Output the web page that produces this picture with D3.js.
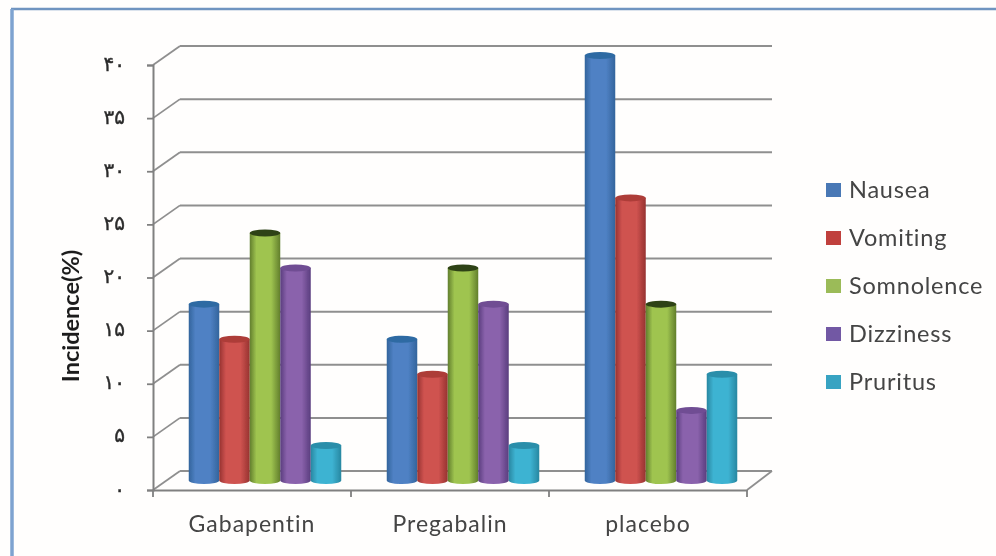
<!DOCTYPE html>
<html>
<head>
<meta charset="utf-8">
<script src="https://cdnjs.cloudflare.com/ajax/libs/d3/7.8.5/d3.min.js"></script>
<style>
  html, body { margin: 0; padding: 0; background: #fff; }
  svg { display: block; }
</style>
</head>
<body>
<svg id="chart" width="996" height="556"></svg>
<script>
var categories = ['Gabapentin', 'Pregabalin', 'placebo']
var seriesNames = ['Nausea', 'Vomiting', 'Somnolence', 'Dizziness', 'Pruritus']
var nausea = [16.6, 13.3, 40]
var vomiting = [13.3, 10, 26.6]
var somnolence = [23.3, 20, 16.6]
var dizziness = [20, 16.6, 6.6]
var pruritus = [3.3, 3.3, 10]
var yTicks = [0, 5, 10, 15, 20, 25, 30, 35, 40]
var yTickLabels = ['۰', '۵', '۱۰', '۱۵', '۲۰', '۲۵', '۳۰', '۳۵', '۴۰']
var seriesColors = [
  { mid: '#4f81c4', dark: '#33649c', cap: '#2f6ba3', key: '#4a78b5' },
  { mid: '#cf5350', dark: '#96322f', cap: '#ad3c39', key: '#c0413e' },
  { mid: '#9fc450', dark: '#617e2c', cap: '#2f4314', key: '#9bbb59' },
  { mid: '#8a62ac', dark: '#5a3d7e', cap: '#6f4d93', key: '#7258a4' },
  { mid: '#3eb3d2', dark: '#2787a1', cap: '#2b8eaa', key: '#38a3c2' }
]

var allSeries = [nausea, vomiting, somnolence, dizziness, pruritus]
var svg = d3.select('#chart')

// plot box of the front plane, the back wall sits at depthX, depthY from it
var plotLeft = 153, plotRight = 747, plotTop = 65, plotBottom = 490
var depthX = 27, depthY = -19
var barShiftX = 13, barShiftY = -9.5
var groupWidth = 152.5

var x = d3.scaleBand().domain(categories).range([plotLeft, plotRight])
var y = d3.scaleLinear().domain([0, 40]).range([plotBottom, plotTop])
var xInner = d3.scaleBand().domain(d3.range(seriesNames.length))
  .range([0, groupWidth])

var defs = svg.append('defs')
defs.append('filter').attr('id', 'soft')
  .attr('x', '-5%').attr('y', '-5%').attr('width', '110%').attr('height', '110%')
  .append('feGaussianBlur').attr('stdDeviation', 0.7)

seriesColors.forEach(function (c, i) {
  var grad = defs.append('linearGradient').attr('id', 'cyl' + i)
  grad.append('stop').attr('offset', '0%').attr('stop-color', c.dark)
  grad.append('stop').attr('offset', '22%').attr('stop-color', c.mid)
  grad.append('stop').attr('offset', '70%').attr('stop-color', c.mid)
  grad.append('stop').attr('offset', '100%').attr('stop-color', c.dark)
})

// page frame, only top and left are visible in the source
var frame = svg.append('g')
frame.append('rect').attr('x', 0).attr('y', 0).attr('width', 996).attr('height', 556).attr('fill', '#fffefd')
frame.append('line').attr('x1', 11).attr('x2', 996).attr('y1', 9).attr('y2', 9)
  .attr('stroke', '#6f94c0').attr('stroke-width', 2.5)
frame.append('line').attr('x1', 12).attr('x2', 12).attr('y1', 9).attr('y2', 556)
  .attr('stroke', '#7ea3d0').attr('stroke-width', 3.5)

var root = svg.append('g').attr('filter', 'url(#soft)')

// back wall lines and the side wall diagonals
var grid = root.append('g')
yTicks.forEach(function (t) {
  var yy = y(t)
  grid.append('line')
    .attr('x1', plotLeft + depthX).attr('x2', plotRight + depthX - 2)
    .attr('y1', yy + depthY).attr('y2', yy + depthY)
    .attr('stroke', '#8f8f8f').attr('stroke-width', 2)
  grid.append('line')
    .attr('x1', plotLeft).attr('x2', plotLeft + depthX)
    .attr('y1', yy).attr('y2', yy + depthY)
    .attr('stroke', '#8f8f8f').attr('stroke-width', 1.8)
})
// floor edge on the right
grid.append('line')
  .attr('x1', plotRight).attr('x2', plotRight + depthX - 2)
  .attr('y1', plotBottom).attr('y2', plotBottom + depthY)
  .attr('stroke', '#8f8f8f').attr('stroke-width', 1.8)

var yAxis = d3.axisLeft(y).tickValues(yTicks).tickSize(6).tickPadding(22)
  .tickFormat(function (d, i) { return yTickLabels[i] })
var yAxisG = root.append('g').attr('transform', 'translate(' + plotLeft + ',0)').call(yAxis)
yAxisG.select('.domain').attr('stroke', '#808080').attr('stroke-width', 2)
yAxisG.selectAll('.tick line').attr('stroke', '#808080').attr('stroke-width', 1.8)
yAxisG.selectAll('text')
  .attr('font-family', 'DejaVu Sans').attr('font-size', 20)
  .attr('fill', '#2c2c2c').attr('stroke', '#2c2c2c').attr('stroke-width', 0.4)
  .attr('dy', '0.25em')

var xAxis = d3.axisBottom(x).tickSize(0).tickPadding(26)
var xAxisG = root.append('g').attr('transform', 'translate(0,' + plotBottom + ')').call(xAxis)
xAxisG.select('.domain').attr('stroke', '#808080').attr('stroke-width', 2)
xAxisG.selectAll('text')
  .attr('font-family', 'Lato').attr('font-size', 23).attr('fill', '#444')
  .attr('letter-spacing', '1px')
// tick marks fall between the groups
xAxisG.selectAll('.sep').data(categories.concat(['end'])).enter().append('line')
  .attr('class', 'sep')
  .attr('x1', function (d, i) { return plotLeft + i * x.bandwidth() })
  .attr('x2', function (d, i) { return plotLeft + i * x.bandwidth() })
  .attr('y1', 0).attr('y2', 7)
  .attr('stroke', '#808080').attr('stroke-width', 1.8)

// cylinders, group by group, left to right
var ry = 3.5
var bars = root.append('g')
categories.forEach(function (cat, ci) {
  var offset = x(cat) + barShiftX + (x.bandwidth() - groupWidth) / 2
  allSeries.forEach(function (vals, si) {
    var bx = offset + xInner(si)
    var w = xInner.bandwidth()
    var base = y(0) + barShiftY
    var head = y(vals[ci]) + barShiftY
    var g = bars.append('g')
    g.append('path')
      .attr('d', 'M' + bx + ',' + head +
        'L' + bx + ',' + base +
        'A' + (w / 2) + ',' + ry + ' 0 0 0 ' + (bx + w) + ',' + base +
        'L' + (bx + w) + ',' + head + 'Z')
      .attr('fill', 'url(#cyl' + si + ')')
    g.append('ellipse')
      .attr('cx', bx + w / 2).attr('cy', head)
      .attr('rx', w / 2).attr('ry', ry)
      .attr('fill', seriesColors[si].cap)
  })
})

// y title
root.append('text')
  .attr('transform', 'translate(79,316) rotate(-90)')
  .attr('text-anchor', 'middle')
  .attr('font-family', 'Lato').attr('font-weight', 'bold').attr('font-size', 23.5)
  .attr('fill', '#1e1e1e')
  .text('Incidence(%)')

// legend
var legendY = d3.scalePoint().domain(seriesNames).range([190, 382])
var legend = root.append('g').selectAll('g').data(seriesNames).enter().append('g')
  .attr('transform', function (d) { return 'translate(826,' + legendY(d) + ')' })
legend.append('rect')
  .attr('x', 0).attr('y', -7).attr('width', 15).attr('height', 14)
  .attr('fill', function (d, i) { return seriesColors[i].key })
legend.append('text')
  .attr('x', 23).attr('dy', '0.35em')
  .attr('font-family', 'Lato').attr('font-size', 23.5).attr('fill', '#444')
  .attr('letter-spacing', '0.8px')
  .text(function (d) { return d })
</script>
</body>
</html>
